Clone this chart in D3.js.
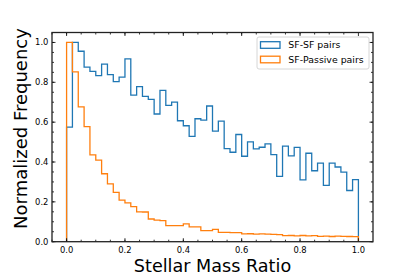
<!DOCTYPE html>
<html>
<head>
<meta charset="utf-8">
<script src="https://cdn.jsdelivr.net/npm/d3@7"></script>
<style>
  html, body { margin: 0; padding: 0; background: #fff; overflow: hidden; }
  svg { display: block; font-family: 'DejaVu Sans', sans-serif; }
</style>
</head>
<body>
<svg id="chart"></svg>
<script>
// histogram bins: 50 bins of 0.02 over [0, 1]
const binStart = 0;
const binWidth = 0.02;

const sfsfCounts = [
  0.575, 1.0, 0.956, 0.876, 0.855, 0.834, 0.891, 0.839, 0.803, 0.826,
  0.918, 0.736, 0.778, 0.729, 0.714, 0.641, 0.760, 0.684, 0.701, 0.607,
  0.582, 0.529, 0.617, 0.610, 0.681, 0.555, 0.605, 0.467, 0.449, 0.538,
  0.429, 0.501, 0.466, 0.474, 0.491, 0.437, 0.328, 0.480, 0.431, 0.473,
  0.310, 0.444, 0.356, 0.394, 0.283, 0.394, 0.375, 0.349, 0.257, 0.312
];

const sfPassiveCounts = [
  1.0, 0.852, 0.677, 0.578, 0.436, 0.409, 0.341, 0.290, 0.248, 0.209,
  0.195, 0.176, 0.150, 0.149, 0.114, 0.108, 0.106, 0.081, 0.081, 0.081,
  0.089, 0.074, 0.074, 0.056, 0.056, 0.062, 0.047, 0.047, 0.046, 0.046,
  0.039, 0.040, 0.038, 0.039, 0.038, 0.037, 0.036, 0.030, 0.031, 0.029,
  0.031, 0.029, 0.030, 0.027, 0.028, 0.026, 0.028, 0.027, 0.026, 0.025
];

const seriesNames = ['SF-SF pairs', 'SF-Passive pairs'];
const seriesColors = ['#1f77b4', '#ff7f0e'];

const xTicks = [0.0, 0.2, 0.4, 0.6, 0.8, 1.0];
const yTicks = [0.0, 0.2, 0.4, 0.6, 0.8, 1.0];

const width = 415, height = 277;
const margin = { top: 32.5, right: 42, bottom: 35.3, left: 52 };
const innerWidth = width - margin.left - margin.right;
const innerHeight = height - margin.top - margin.bottom;

const svg = d3.select('#chart')
  .attr('width', width)
  .attr('height', height);

const g = svg.append('g')
  .attr('transform', `translate(${margin.left},${margin.top})`);

// X: mass ratio, matplotlib-style 5% padding
const xScale = d3.scaleLinear()
  .domain([-0.05, 1.05])
  .range([0, innerWidth]);

// Y: normalized frequency, sticky bottom at 0
const yScale = d3.scaleLinear()
  .domain([0, 1.05])
  .range([innerHeight, 0]);

// step outline like histtype='step'
function stepPoints(counts) {
  const pts = [[binStart, 0]];
  counts.forEach((v, i) => pts.push([binStart + i * binWidth, v]));
  pts.push([binStart + counts.length * binWidth, 0]);
  return pts;
}

const stepLine = d3.line()
  .x(d => xScale(d[0]))
  .y(d => yScale(d[1]))
  .curve(d3.curveStepAfter);

g.append('clipPath').attr('id', 'clip')
  .append('rect').attr('width', innerWidth).attr('height', innerHeight);

[sfsfCounts, sfPassiveCounts].forEach((counts, i) => {
  g.append('path')
    .attr('clip-path', 'url(#clip)')
    .attr('d', stepLine(stepPoints(counts)))
    .attr('fill', 'none')
    .attr('stroke', seriesColors[i])
    .attr('stroke-width', 1.3)
    .attr('stroke-linejoin', 'miter');
});

// Axes, ticks inward on all sides
const minorX = d3.range(0, 21).map(i => -0.05 + i * 0.05).filter(v => v > -0.051 && v < 1.051);
const minorY = d3.range(0, 22).map(i => i * 0.05);

function tickMarks(vals, scale, len, side) {
  vals.forEach(v => {
    const p = scale(v);
    if (side === 'bottom') g.append('line').attr('x1', p).attr('x2', p).attr('y1', innerHeight).attr('y2', innerHeight - len);
    if (side === 'top') g.append('line').attr('x1', p).attr('x2', p).attr('y1', 0).attr('y2', len);
    if (side === 'left') g.append('line').attr('y1', p).attr('y2', p).attr('x1', 0).attr('x2', len);
    if (side === 'right') g.append('line').attr('y1', p).attr('y2', p).attr('x1', innerWidth).attr('x2', innerWidth - len);
  });
}
['bottom', 'top'].forEach(s => { tickMarks(xTicks, xScale, 3.5, s); tickMarks(minorX, xScale, 2, s); });
['left', 'right'].forEach(s => { tickMarks(yTicks, yScale, 3.5, s); tickMarks(minorY, yScale, 2, s); });
g.selectAll('line').attr('stroke', '#000').attr('stroke-width', 0.8);

g.append('rect')
  .attr('width', innerWidth)
  .attr('height', innerHeight)
  .attr('fill', 'none')
  .attr('stroke', '#222')
  .attr('stroke-width', 1.3);

// tick labels
g.selectAll('.xlab')
  .data(xTicks)
  .join('text')
  .attr('class', 'xlab')
  .attr('x', d => xScale(d))
  .attr('y', innerHeight + 11.6)
  .attr('text-anchor', 'middle')
  .attr('font-size', '8.4px')
  .attr('fill', '#000')
  .text(d => d.toFixed(1));

g.selectAll('.ylab')
  .data(yTicks)
  .join('text')
  .attr('class', 'ylab')
  .attr('x', -3.6)
  .attr('y', d => yScale(d))
  .attr('dy', '0.35em')
  .attr('text-anchor', 'end')
  .attr('font-size', '8.4px')
  .attr('fill', '#000')
  .text(d => d.toFixed(1));

// Axis titles
svg.append('text')
  .attr('x', margin.left + innerWidth / 2)
  .attr('y', 272)
  .attr('text-anchor', 'middle')
  .attr('font-size', '17.6px')
  .attr('fill', '#000')
  .text('Stellar Mass Ratio');

svg.append('text')
  .attr('transform', 'translate(26.5,128.5) rotate(-90)')
  .attr('text-anchor', 'middle')
  .attr('font-size', '18px')
  .attr('fill', '#000')
  .text('Normalized Frequency');

// Legend
const legend = svg.append('g').attr('transform', 'translate(257,37)');
legend.append('rect')
  .attr('width', 112)
  .attr('height', 32)
  .attr('rx', 2)
  .attr('fill', '#fff')
  .attr('fill-opacity', 0.8)
  .attr('stroke', '#cccccc')
  .attr('stroke-width', 0.8);

seriesNames.forEach((name, i) => {
  const row = legend.append('g').attr('transform', `translate(0,${4.7 + i * 14.5})`);
  row.append('rect')
    .attr('x', 3.5).attr('y', 0)
    .attr('width', 19.5).attr('height', 6.6)
    .attr('fill', 'none')
    .attr('stroke', seriesColors[i])
    .attr('stroke-width', 1.3);
  row.append('text')
    .attr('x', 31.3)
    .attr('y', 3.4)
    .attr('dy', '0.35em')
    .attr('font-size', '9.4px')
    .attr('fill', '#000')
    .text(name);
});
</script>
</body>
</html>
